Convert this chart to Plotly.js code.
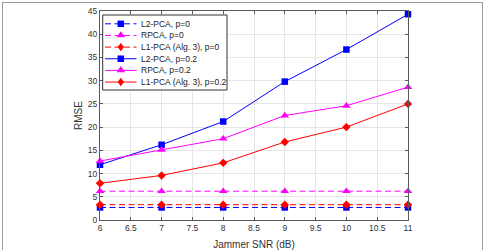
<!DOCTYPE html>
<html>
<head>
<meta charset="utf-8">
<script src="https://cdn.plot.ly/plotly-3.0.1.min.js"></script>
<style>
  html, body { margin: 0; padding: 0; background: #fff; }
  #wrap { position: relative; width: 484px; height: 250px; overflow: hidden; }
  #chart { width: 484px; height: 250px; }
  #frame { position: absolute; left: 2px; top: 2px; width: 479px; height: 260px;
           border: 1px solid #9a9a9a; pointer-events: none; }
</style>
</head>
<body>
<div id="wrap">
  <div id="chart"></div>
  <div id="frame"></div>
</div>
<script>
// Jammer SNR (dB)
const snr = [6, 7, 8, 9, 10, 11];

// RMSE, no corruption (p = 0)
const l2pca_p0 = [2.7, 2.7, 2.7, 2.7, 2.7, 2.7];
const rpca_p0  = [6.2, 6.2, 6.2, 6.2, 6.2, 6.2];
const l1pca_p0 = [3.3, 3.3, 3.3, 3.3, 3.3, 3.3];

// RMSE, corruption probability p = 0.2
const l2pca_p02 = [11.9, 16.2, 21.2, 29.8, 36.7, 44.3];
const rpca_p02  = [12.7, 15.1, 17.5, 22.5, 24.6, 28.6];
const l1pca_p02 = [7.9, 9.6, 12.3, 16.8, 20.0, 25.0];

const names = [
  'L2-PCA, p=0', 'RPCA, p=0', 'L1-PCA (Alg. 3), p=0',
  'L2-PCA, p=0.2', 'RPCA, p=0.2', 'L1-PCA (Alg. 3), p=0.2'
];

const FONT = 'Liberation Sans, Arial, Helvetica, sans-serif';
const BLUE = '#0000ff', MAGENTA = '#ff00ff', RED = '#ff0000';
const DASH = '6px,3.5px';

// marker styles per method
const styles = [
  { color: BLUE,    symbol: 'square',      size: 6.5, dash: DASH },
  { color: MAGENTA, symbol: 'triangle-up', size: 7.5, dash: DASH },
  { color: RED,     symbol: 'diamond',     size: 6.5, dash: DASH },
  { color: BLUE,    symbol: 'square',      size: 6.5, dash: 'solid' },
  { color: MAGENTA, symbol: 'triangle-up', size: 7.5, dash: 'solid' },
  { color: RED,     symbol: 'diamond',     size: 6.5, dash: 'solid' }
];
const values = [l2pca_p0, rpca_p0, l1pca_p0, l2pca_p02, rpca_p02, l1pca_p02];

const traces = values.map((y, i) => ({
  x: snr, y: y, name: names[i], type: 'scatter', mode: 'lines+markers',
  showlegend: false, cliponaxis: false,
  line: { color: styles[i].color, width: 1, dash: styles[i].dash },
  marker: { color: styles[i].color, symbol: styles[i].symbol, size: styles[i].size,
            line: { width: 0 } }
}));

// plot area in page pixels
const W = 484, H = 250;
const M = { l: 100, r: 76, t: 11, b: 30 };
const PW = W - M.l - M.r, PH = H - M.t - M.b;
const px = v => (v - M.l) / PW;          // page x -> paper x
const py = v => (M.t + PH - v) / PH;     // page y -> paper y

// compact MATLAB-style legend box drawn with shapes and annotations
const LEG = { x0: 102.7, x1: 227, y0: 15, y1: 90, row0: 23.8, step: 11.65,
              s0: 105, s1: 136.5, mk: 120.8, tx: 140.2 };

function markerPath(sym, cx, cy) {
  if (sym === 'square') {
    const r = 3.25;
    return `M${px(cx - r)},${py(cy - r)} L${px(cx + r)},${py(cy - r)} L${px(cx + r)},${py(cy + r)} L${px(cx - r)},${py(cy + r)} Z`;
  }
  if (sym === 'triangle-up') {
    const hw = 4.3, up = 4.3, dn = 1.9;
    return `M${px(cx)},${py(cy - up)} L${px(cx + hw)},${py(cy + dn)} L${px(cx - hw)},${py(cy + dn)} Z`;
  }
  const rx = 3.2, ry = 4.2;
  return `M${px(cx)},${py(cy - ry)} L${px(cx + rx)},${py(cy)} L${px(cx)},${py(cy + ry)} L${px(cx - rx)},${py(cy)} Z`;
}

const shapes = [{
  type: 'rect', xref: 'paper', yref: 'paper', layer: 'above',
  x0: px(LEG.x0), x1: px(LEG.x1), y0: py(LEG.y0), y1: py(LEG.y1),
  fillcolor: '#fff', line: { color: '#333', width: 1 }
}];
const annotations = [];
names.forEach((n, i) => {
  const yy = LEG.row0 + i * LEG.step;
  shapes.push({
    type: 'line', xref: 'paper', yref: 'paper', layer: 'above',
    x0: px(LEG.s0), x1: px(LEG.s1), y0: py(yy), y1: py(yy),
    line: { color: styles[i].color, width: 1, dash: styles[i].dash }
  });
  shapes.push({
    type: 'path', xref: 'paper', yref: 'paper', layer: 'above',
    path: markerPath(styles[i].symbol, LEG.mk, yy),
    fillcolor: styles[i].color, line: { width: 0 }
  });
  annotations.push({
    xref: 'paper', yref: 'paper', x: px(LEG.tx), y: py(yy),
    xanchor: 'left', yanchor: 'middle', showarrow: false, text: n,
    font: { family: FONT, size: 8.5, color: '#222' }, borderpad: 0
  });
});

const axisCommon = {
  showline: true, mirror: 'ticks', linecolor: '#5a5a5a', linewidth: 1,
  ticks: 'inside', ticklen: 3, tickcolor: '#5a5a5a', tickwidth: 1,
  showgrid: true, gridcolor: '#e6e6e6', gridwidth: 1,
  zeroline: false,
  tickfont: { family: FONT, size: 8.5, color: '#333' }
};

const layout = {
  width: W, height: H,
  margin: M,
  paper_bgcolor: '#fff', plot_bgcolor: '#fff',
  showlegend: false,
  shapes: shapes,
  annotations: annotations,
  xaxis: Object.assign({}, axisCommon, {
    range: [6, 11], dtick: 0.5, tick0: 6,
    title: { text: 'Jammer SNR (dB)', standoff: 8,
             font: { family: FONT, size: 10, color: '#333' } }
  }),
  yaxis: Object.assign({}, axisCommon, {
    range: [0, 45], dtick: 5, tick0: 0,
    title: { text: 'RMSE', standoff: 3,
             font: { family: FONT, size: 10, color: '#333' } }
  })
};

Plotly.newPlot('chart', traces, layout, { staticPlot: true, displayModeBar: false });
</script>
</body>
</html>
